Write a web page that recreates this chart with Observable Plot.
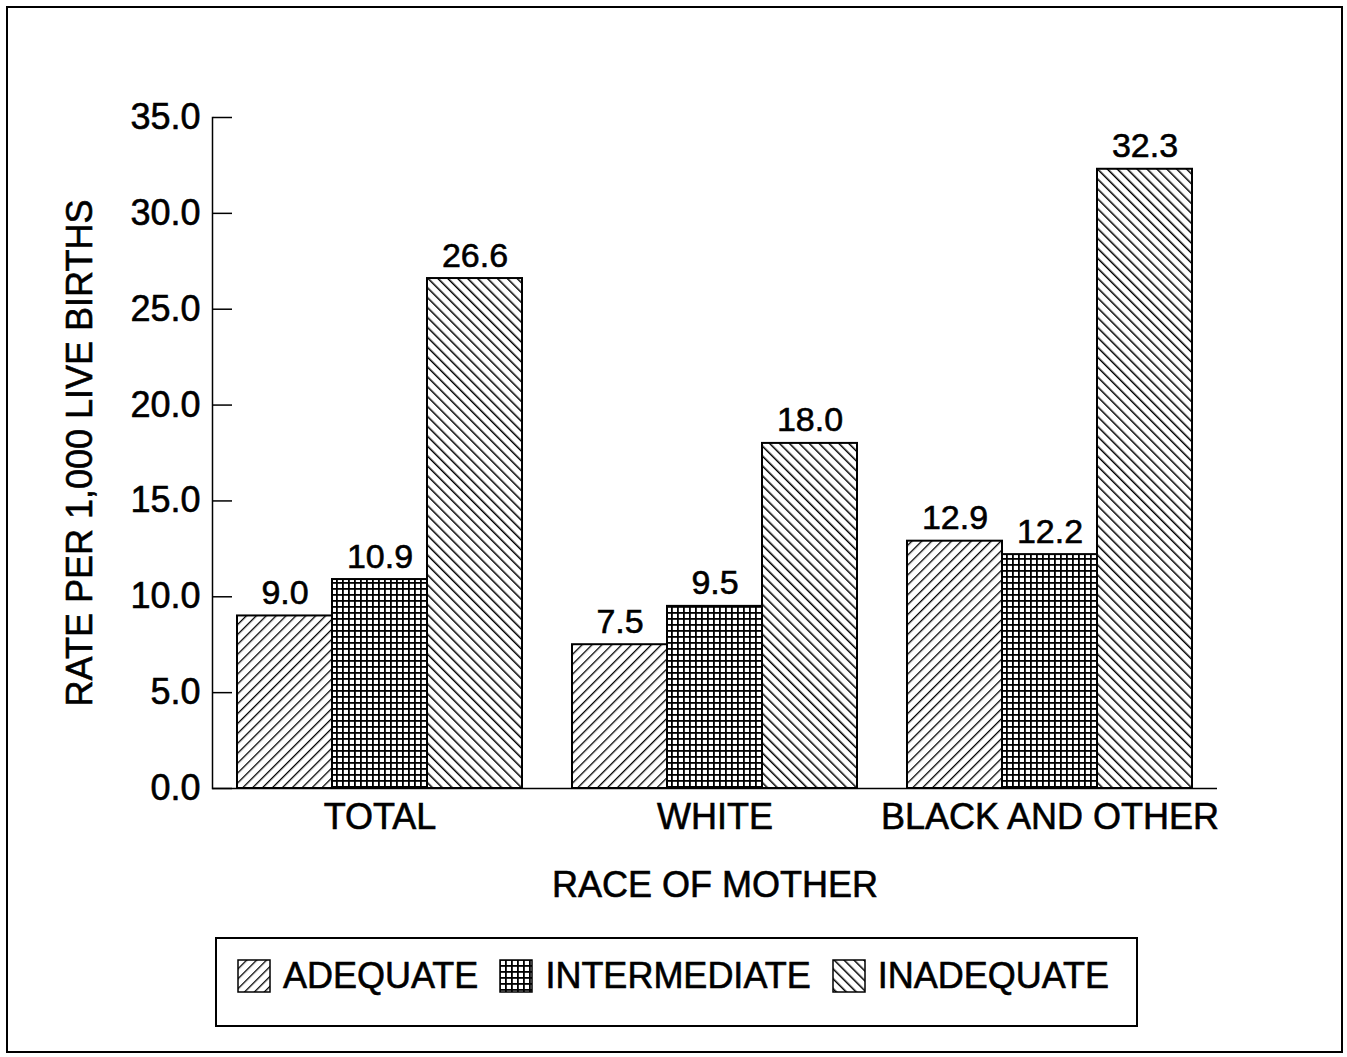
<!DOCTYPE html>
<html><head><meta charset="utf-8">
<script src="https://cdn.jsdelivr.net/npm/d3@7"></script>
<script src="https://cdn.jsdelivr.net/npm/@observablehq/plot@0.6"></script>
<style>
body{margin:0;background:#fff;font-family:"Liberation Sans",Arial,sans-serif;color:#000;}
#wrap{position:relative;width:1347px;height:1057px;overflow:hidden;background:#fff;}
#border{position:absolute;left:6px;top:6px;width:1337px;height:1047px;border:2px solid #000;box-sizing:border-box;}
#chart{position:absolute;left:0;top:0;}
#chart text{stroke:#000;stroke-width:0.6px;}
#legend{position:absolute;left:215px;top:937px;width:923px;height:90px;border:2px solid #000;box-sizing:border-box;display:flex;align-items:center;padding-left:20px;padding-bottom:12px;font-size:36px;}
#legend .item{display:flex;align-items:center;}
#legend svg{margin-right:12px;}
#legend span{margin-right:21px;-webkit-text-stroke:0.6px #000;}
</style>
</head><body>
<svg width="0" height="0" style="position:absolute">
<defs>
<pattern id="p-adequate" patternUnits="userSpaceOnUse" width="7" height="7" patternTransform="rotate(45)">
<rect width="7" height="7" fill="white"/><rect x="0" y="0" width="1.3" height="7" fill="black"/>
</pattern>
<pattern id="p-intermediate" patternUnits="userSpaceOnUse" width="6" height="6">
<rect width="6" height="6" fill="white"/><rect x="0" y="0" width="1.8" height="6" fill="black"/><rect x="0" y="0" width="6" height="1.8" fill="black"/>
</pattern>
<pattern id="p-inadequate" patternUnits="userSpaceOnUse" width="7" height="7" patternTransform="rotate(-45)">
<rect width="7" height="7" fill="white"/><rect x="0" y="0" width="1.5" height="7" fill="black"/>
</pattern>
</defs>
</svg>
<div id="wrap">
<div id="border"></div>
<div id="chart"></div>
<div id="legend"></div>
</div>
<script>
const groups = ["TOTAL", "WHITE", "BLACK AND OTHER"];
const series = ["ADEQUATE", "INTERMEDIATE", "INADEQUATE"];
const adequate = [9.0, 7.5, 12.9];
const intermediate = [10.9, 9.5, 12.2];
const inadequate = [26.6, 18.0, 32.3];
const yTicks = [0, 5, 10, 15, 20, 25, 30, 35];
const patterns = ["url(#p-adequate)", "url(#p-intermediate)", "url(#p-inadequate)"];

const valuesBySeries = [adequate, intermediate, inadequate];
const data = [];
groups.forEach((g, gi) => series.forEach((s, si) => data.push({group: g, series: s, value: valuesBySeries[si][gi]})));

const fmt = d3.format(".1f");
const plot = Plot.plot({
  width: 1347,
  height: 920,
  marginLeft: 212,
  marginRight: 130,
  marginTop: 117,
  marginBottom: 132,
  style: {fontFamily: "Liberation Sans, Arial, sans-serif", fontSize: "36px", color: "black", background: "transparent"},
  fx: {domain: groups, padding: 0},
  x: {domain: series, paddingInner: 0, paddingOuter: 0.25, axis: null},
  y: {domain: [0, 35]},
  color: {domain: series, range: patterns},
  marks: [
    Plot.barY(data, {fx: "group", x: "series", y: "value", fill: "series", stroke: "black", strokeWidth: 2}),
    Plot.ruleY([0], {stroke: "black", strokeWidth: 1.5}),
    Plot.frame({anchor: "left", facetAnchor: "left", stroke: "black", strokeWidth: 1.5}),
    Plot.axisY({anchor: "right", facetAnchor: "left", frameAnchor: "left", ticks: yTicks, tickSize: 19, fill: "none", label: null, strokeWidth: 1.5}),
    Plot.axisY({anchor: "left", facetAnchor: "left", ticks: yTicks, tickSize: 0, tickPadding: 12, tickFormat: fmt,
      label: "RATE PER 1,000 LIVE BIRTHS", labelAnchor: "center", labelOffset: 146, labelArrow: "none"}),
    Plot.axisFx({anchor: "bottom", tickSize: 0, tickPadding: 15, label: "RACE OF MOTHER", labelAnchor: "center", labelOffset: 108, labelArrow: "none"}),
    Plot.text(data, {fx: "group", x: "series", y: "value", text: d => fmt(d.value), dy: -12, lineAnchor: "bottom", fontSize: 34})
  ]
});
document.getElementById("chart").appendChild(plot);

const legend = document.getElementById("legend");
series.forEach((s, i) => {
  const item = document.createElement("div");
  item.className = "item";
  item.innerHTML = `<svg width="34" height="34"><rect x="1" y="1" width="32" height="32" fill="${patterns[i]}" stroke="black" stroke-width="1.5"/></svg><span>${s}</span>`;
  legend.appendChild(item);
});
</script>
</body></html>
